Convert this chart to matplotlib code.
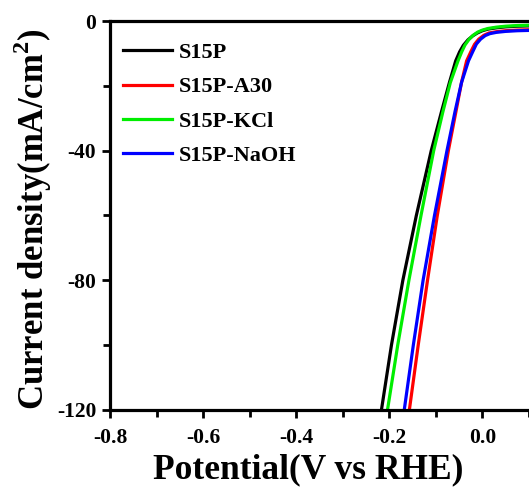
import matplotlib
matplotlib.use("Agg")
import matplotlib.pyplot as plt
from matplotlib.ticker import MultipleLocator

labels = ["S15P", "S15P-A30", "S15P-KCl", "S15P-NaOH"]
colors = ["#000000", "#ff0000", "#00ee00", "#0000ff"]

x_s15p = [-0.217, -0.1955, -0.171, -0.142, -0.110, -0.088, -0.071, -0.0575, -0.049, -0.041,
          -0.031, -0.021, -0.011, 0.000, 0.012, 0.030, 0.050, 0.075, 0.101]
y_s15p = [-120, -100, -80, -60, -40, -28, -19, -12.3, -9.5, -7.5,
          -5.8, -4.6, -3.7, -3.0, -2.5, -2.1, -1.8, -1.6, -1.5]

x_a30 = [-0.157, -0.138, -0.118, -0.097, -0.0732, -0.057, -0.045, -0.034, -0.025, -0.017,
         -0.008, 0.003, 0.014, 0.030, 0.050, 0.075, 0.101]
y_a30 = [-120, -100, -80, -60, -40, -28, -19, -12.3, -9.5, -7.2,
         -5.6, -4.4, -3.7, -3.3, -3.0, -2.8, -2.7]

x_kcl = [-0.204, -0.182, -0.158, -0.132, -0.1047, -0.085, -0.069, -0.0525, -0.0445, -0.0375,
         -0.029, -0.020, -0.010, 0.000, 0.012, 0.030, 0.050, 0.075, 0.101]
y_kcl = [-120, -100, -80, -60, -40, -28, -19, -12.3, -9.5, -7.4,
         -5.7, -4.4, -3.4, -2.8, -2.3, -1.9, -1.6, -1.4, -1.3]

x_naoh = [-0.168, -0.1485, -0.1275, -0.103, -0.0762, -0.059, -0.045, -0.030, -0.021, -0.013,
          -0.004, 0.006, 0.016, 0.030, 0.050, 0.075, 0.101]
y_naoh = [-120, -100, -80, -60, -40, -28, -19, -12.3, -9.5, -7.1,
          -5.6, -4.5, -3.9, -3.5, -3.2, -3.0, -2.9]

series = [(x_s15p, y_s15p), (x_a30, y_a30), (x_kcl, y_kcl), (x_naoh, y_naoh)]

xticks = [-0.8, -0.6, -0.4, -0.2, 0.0]
yticks = [0, -40, -80, -120]

plt.rcParams['font.family'] = ['Liberation Serif', 'DejaVu Serif']
plt.rcParams['font.weight'] = 'bold'
plt.rcParams['mathtext.fontset'] = 'custom'
plt.rcParams['mathtext.rm'] = 'Liberation Serif:bold'
plt.rcParams['mathtext.bf'] = 'Liberation Serif:bold'

fig = plt.figure(figsize=(5.29, 4.93), dpi=100)
ax = fig.add_axes([0.208, 0.1684, 0.792, 0.789])

for (xs, ys), lab, c in zip(series, labels, colors):
    ax.plot(xs, ys, color=c, lw=2.3, label=lab, solid_joinstyle='round')

ax.set_xlim(-0.8, 0.1)
ax.set_ylim(-120, 0)
ax.set_xticks(xticks)
ax.set_yticks(yticks)
ax.set_xticklabels([f"{v:.1f}" for v in xticks])
ax.set_yticklabels([str(v) for v in yticks])
ax.xaxis.set_minor_locator(MultipleLocator(0.1))
ax.yaxis.set_minor_locator(MultipleLocator(20))

for s in ['left', 'bottom', 'top']:
    ax.spines[s].set_linewidth(2.3)
ax.spines['right'].set_visible(False)
ax.tick_params(which='both', direction='out', width=2.0, labelsize=15.5)
ax.tick_params(which='major', length=6)
ax.tick_params(which='minor', length=5)
ax.tick_params(axis='x', which='both', top=False, pad=7)
ax.tick_params(axis='y', which='both', pad=4)

ax.set_xlabel("Potential(V vs RHE)", fontsize=25.5, fontweight='bold', labelpad=4)
ax.set_ylabel("Current density(mA/cm$^{2}$)", fontsize=25, fontweight='bold', labelpad=2)
ax.xaxis.label.set_x(0.474)
ax.yaxis.label.set_y(0.49)

leg = ax.legend(loc='upper left', bbox_to_anchor=(-0.005, 0.985), frameon=False,
                fontsize=16, handlelength=2.2, handletextpad=0.27,
                labelspacing=0.62, borderaxespad=0.3)

fig.savefig("out.png", dpi=100)
